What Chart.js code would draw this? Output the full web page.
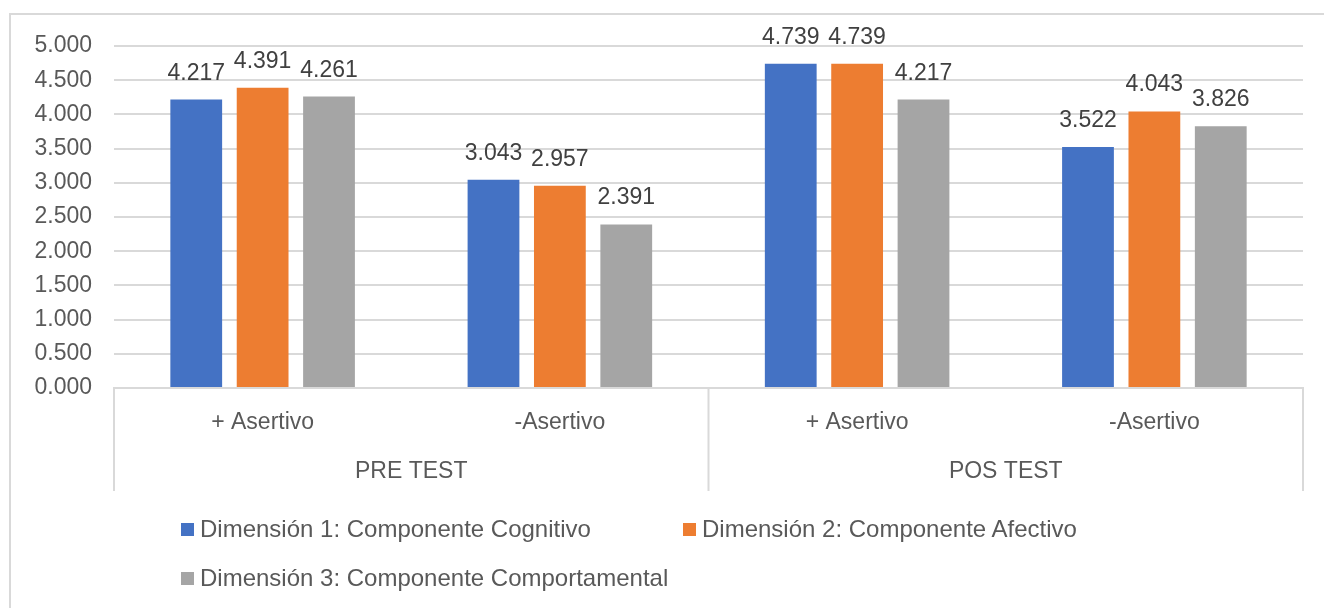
<!DOCTYPE html>
<html>
<head>
<meta charset="utf-8">
<script src="https://cdn.jsdelivr.net/npm/chart.js@4/dist/chart.umd.min.js"></script>
<style>
  html, body { margin: 0; padding: 0; background: #fff; }
  #wrap { position: relative; width: 1324px; height: 608px; overflow: hidden; font-family: "Liberation Sans", Arial, sans-serif; }
  #frame { position: absolute; left: 9px; top: 13px; width: 1400px; height: 700px; border-top: 2px solid #d9d9d9; border-left: 2px solid #d9d9d9; }
  #chart-box { position: absolute; left: 0; top: 0; width: 1324px; height: 608px; }
  #legend { position: absolute; left: 181px; top: 512px; width: 1010px; display: flex; flex-wrap: wrap; }
  .item { width: 502px; height: 49px; display: flex; align-items: flex-start; color: #595959; font-size: 24px; line-height: 34px; }
  .sw { width: 13px; height: 13px; margin: 11px 6px 0 0; flex: none; }
</style>
</head>
<body>
<div id="wrap">
  <div id="frame"></div>
  <div id="chart-box"><canvas id="chart"></canvas></div>
  <div id="legend"></div>
</div>
<script>
// data
const categories = ['+ Asertivo', '-Asertivo', '+ Asertivo', '-Asertivo'];
const groups = ['PRE TEST', 'POS TEST'];
const seriesNames = [
    'Dimensión 1: Componente Cognitivo',
    'Dimensión 2: Componente Afectivo',
    'Dimensión 3: Componente Comportamental'
];
const cognitivo = [4.217, 3.043, 4.739, 3.522];
const afectivo = [4.391, 2.957, 4.739, 4.043];
const comportamental = [4.261, 2.391, 4.217, 3.826];
const colors = ['#4472C4', '#ED7D31', '#A5A5A5'];

const FONT = '"Liberation Sans", Arial, sans-serif';
const GRID = '#d9d9d9';

// value labels on top of bars
const valueLabels = {
    id: 'valueLabels',
    afterDatasetsDraw(chart) {
        const ctx = chart.ctx;
        ctx.save();
        ctx.font = '23px ' + FONT;
        ctx.fillStyle = '#404040';
        ctx.textAlign = 'center';
        ctx.textBaseline = 'alphabetic';
        chart.data.datasets.forEach((ds, i) => {
            chart.getDatasetMeta(i).data.forEach((bar, j) => {
                ctx.fillText(ds.data[j].toFixed(3), bar.x, bar.y - 20);
            });
        });
        ctx.restore();
    }
};

// second level of the category axis (PRE TEST / POS TEST) and its boxes
const groupAxis = {
    id: 'groupAxis',
    afterDraw(chart) {
        const ctx = chart.ctx;
        const x = chart.scales.x;
        const top = chart.chartArea.bottom;
        const bottom = top + 103;
        const per = categories.length / groups.length;
        ctx.save();
        ctx.strokeStyle = GRID;
        ctx.lineWidth = 2;
        for (let g = 0; g <= groups.length; g++) {
            const px = x.left + (x.right - x.left) * g / groups.length;
            ctx.beginPath();
            ctx.moveTo(px, top);
            ctx.lineTo(px, bottom);
            ctx.stroke();
        }
        ctx.font = '23px ' + FONT;
        ctx.fillStyle = '#595959';
        ctx.textAlign = 'center';
        ctx.textBaseline = 'middle';
        groups.forEach((g, i) => {
            const a = x.getPixelForValue(i * per);
            const b = x.getPixelForValue(i * per + per - 1);
            ctx.fillText(g, (a + b) / 2, top + 84);
        });
        ctx.restore();
    }
};

const datasets = [cognitivo, afectivo, comportamental].map((d, i) => ({
    label: seriesNames[i],
    data: d,
    backgroundColor: colors[i],
    borderWidth: 0,
    barPercentage: 0.78,
    categoryPercentage: 0.67
}));

new Chart(document.getElementById('chart'), {
    type: 'bar',
    data: { labels: categories, datasets: datasets },
    options: {
        responsive: true,
        maintainAspectRatio: false,
        devicePixelRatio: 1,
        animation: false,
        layout: { padding: { left: 20, right: 21, top: 46, bottom: 117 } },
        plugins: { legend: { display: false }, tooltip: { enabled: false } },
        scales: {
            x: {
                grid: { display: false, drawTicks: false },
                border: { display: true, color: GRID, width: 2 },
                ticks: { color: '#595959', font: { family: FONT, size: 23 }, padding: 21, maxRotation: 0 },
                afterFit(s) { s.height = 103; }
            },
            y: {
                min: 0,
                max: 5,
                grid: { color: GRID, lineWidth: 2, drawTicks: false },
                border: { display: false },
                ticks: {
                    stepSize: 0.5,
                    color: '#595959',
                    font: { family: FONT, size: 23 },
                    padding: 22,
                    callback: v => v.toFixed(3)
                },
                afterFit(s) { s.width = 94; }
            }
        }
    },
    plugins: [valueLabels, groupAxis]
});

// legend
const legend = document.getElementById('legend');
seriesNames.forEach((name, i) => {
    const it = document.createElement('div');
    it.className = 'item';
    it.innerHTML = `<span class="sw" style="background:${colors[i]}"></span><span>${name}</span>`;
    legend.appendChild(it);
});
</script>
</body>
</html>
